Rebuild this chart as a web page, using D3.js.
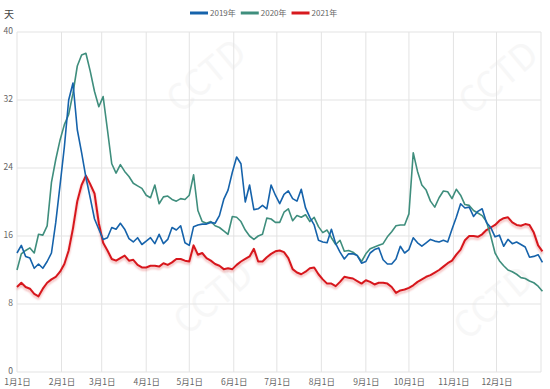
<!DOCTYPE html>
<html>
<head>
<meta charset="utf-8">
<script src="https://cdn.jsdelivr.net/npm/d3@7"></script>
<style>
  body { margin: 0; background: #fff; }
  text { font-family: "Noto Sans CJK SC", "Noto Sans", sans-serif; }
</style>
</head>
<body>
<svg id="chart" width="550" height="389"></svg>
<script>
// days sampled every 3 days from Jan 1
const sampleDays = d3.range(0, 367, 3);

const monthStarts = [0, 31, 59, 90, 120, 151, 181, 212, 243, 273, 304, 334];
const monthLabels = ["1月1日", "2月1日", "3月1日", "4月1日", "5月1日", "6月1日",
  "7月1日", "8月1日", "9月1日", "10月1日", "11月1日", "12月1日"];
const yTicks = [0, 8, 16, 24, 32, 40];
const seriesNames = ["2019年", "2020年", "2021年"];

const days2019 = [
  14.0, 14.9, 13.6, 13.4, 12.2, 12.7, 12.2, 13.0, 14.0, 17.6,
  22.0, 26.5, 32.0, 34.0, 28.5, 25.8, 22.9, 20.5, 18.0, 16.8,
  15.6, 15.8, 17.0, 16.8, 17.5, 16.8, 15.7, 15.3, 15.8, 15.0,
  15.4, 15.8, 15.1, 16.2, 15.1, 15.6, 17.0, 16.7, 17.2, 15.2,
  14.9, 17.1, 17.3, 17.4, 17.4, 17.6, 17.5, 18.4, 20.3, 21.4,
  23.5, 25.3, 24.5, 20.0, 22.0, 19.1, 19.2, 19.6, 19.2, 22.0,
  20.8, 19.8, 20.9, 21.3, 20.4, 20.1, 21.5, 19.3, 18.2, 17.3,
  15.5, 15.3, 15.2, 16.8, 15.1, 14.1, 13.3, 13.9, 13.9, 13.7,
  12.8, 13.0, 14.0, 14.4, 14.6, 13.2, 12.7, 12.7, 13.3, 14.8,
  14.0, 14.4, 15.8, 15.2, 14.8, 15.2, 15.6, 15.4, 15.3, 15.5,
  15.3, 16.8, 18.2, 19.8, 19.3, 19.4, 18.3, 18.9, 19.2, 17.6,
  17.0, 15.9, 16.1, 14.8, 15.6, 15.1, 15.3, 15.0, 14.7, 13.5,
  13.6, 13.8, 12.9
];

const days2020 = [
  12.0, 13.9, 14.3, 14.6, 14.0, 16.2, 16.1, 17.2, 22.3, 25.0,
  27.3, 29.1, 30.3, 32.8, 36.0, 37.3, 37.5, 35.4, 33.0, 31.2,
  32.4, 28.5, 24.5, 23.4, 24.4, 23.6, 23.0, 22.2, 21.9, 21.6,
  20.8, 20.5, 22.0, 19.8, 20.6, 20.7, 20.3, 20.1, 20.4, 20.3,
  20.8, 23.2, 19.0, 17.7, 17.5, 17.7, 17.2, 17.0, 16.6, 16.2,
  18.3, 18.2, 17.7, 16.7, 16.0, 15.6, 16.0, 16.2, 18.1, 18.0,
  17.6, 17.6, 18.8, 19.2, 17.8, 18.4, 18.2, 18.5, 17.7, 18.2,
  17.1, 16.4, 16.7, 15.8, 15.0, 15.5, 14.2, 14.3, 14.1, 13.7,
  13.0, 13.9, 14.5, 14.7, 14.9, 15.1, 15.9, 16.5, 17.2, 17.3,
  17.3, 18.6, 25.8, 23.6, 22.0, 21.4, 20.1, 19.4, 20.5, 21.3,
  21.2, 20.4, 21.5, 20.8, 19.7, 19.6, 19.0, 18.7, 18.4, 17.7,
  16.0, 14.0, 13.1, 12.5, 12.0, 11.8, 11.5, 11.1, 11.0, 10.7,
  10.5, 10.1, 9.5
];

const days2021 = [
  10.0, 10.5, 10.0, 9.8, 9.2, 8.9, 9.8, 10.5, 10.9, 11.2,
  11.8, 12.7, 14.3, 16.9, 20.1, 22.0, 23.1, 22.1, 21.0, 17.5,
  15.2, 14.3, 13.3, 13.1, 13.4, 13.7, 13.1, 13.2, 12.6, 12.3,
  12.3, 12.5, 12.5, 12.4, 12.8, 12.6, 12.9, 13.3, 13.3, 13.1,
  13.0, 14.9, 13.8, 14.0, 13.4, 13.1, 12.7, 12.5, 12.1, 12.2,
  12.1, 12.6, 13.0, 13.3, 13.6, 14.5, 13.0, 13.0, 13.5, 13.9,
  14.2, 14.3, 14.1, 13.4, 12.1, 11.7, 11.5, 11.8, 12.2, 12.3,
  11.5, 10.9, 10.4, 10.4, 10.1, 10.6, 11.2, 11.1, 11.0, 10.7,
  10.4, 10.8, 10.6, 10.3, 10.5, 10.5, 10.4, 10.0, 9.3, 9.6,
  9.7, 9.9, 10.2, 10.6, 10.9, 11.2, 11.4, 11.7, 12.0, 12.4,
  12.8, 13.1, 13.8, 14.4, 15.5, 16.0, 16.0, 15.9, 16.2, 16.7,
  17.0, 17.3, 17.8, 18.1, 18.2, 17.6, 17.3, 17.2, 17.4, 17.3,
  16.4, 14.9, 14.2
];

const COLORS = ["#1663ab", "#3f8e7d", "#d7191e"];

const svg = d3.select("#chart");
const X_SCALE = d3.scaleLinear().domain([0, 365]).range([17, 541]);
const Y_SCALE = d3.scaleLinear().domain([0, 40]).range([372, 32]);

// faint watermark
[[208, 78], [500, 80], [495, 305], [215, 300]].forEach(p => {
  svg.append("text")
    .attr("transform", `translate(${p[0]},${p[1]}) rotate(-40)`)
    .attr("text-anchor", "middle")
    .attr("dominant-baseline", "middle")
    .attr("font-size", 36)
    .attr("font-family", "DejaVu Sans")
    .attr("fill", "#f7f7f7")
    .text("CCTD");
});

// horizontal grid
svg.append("g")
  .selectAll("line")
  .data(yTicks)
  .enter()
  .append("line")
  .attr("x1", X_SCALE(0))
  .attr("x2", X_SCALE(365))
  .attr("y1", d => Y_SCALE(d))
  .attr("y2", d => Y_SCALE(d))
  .attr("stroke", "#e3e3e3");

// vertical grid
svg.append("g")
  .selectAll("line")
  .data(monthStarts.concat([365]))
  .enter()
  .append("line")
  .attr("x1", d => X_SCALE(d))
  .attr("x2", d => X_SCALE(d))
  .attr("y1", Y_SCALE(40))
  .attr("y2", Y_SCALE(0))
  .attr("stroke", "#e3e3e3");

const X_AXIS = d3.axisBottom(X_SCALE)
  .tickValues(monthStarts)
  .tickFormat((d, i) => monthLabels[i])
  .tickSize(0)
  .tickPadding(7);
svg.append("g")
  .attr("transform", `translate(0, ${Y_SCALE(0)})`)
  .call(X_AXIS)
  .call(g => g.select(".domain").remove())
  .selectAll("text")
  .attr("font-size", 8.5)
  .attr("fill", "#666");

const Y_AXIS = d3.axisLeft(Y_SCALE).tickValues(yTicks).tickSize(0).tickPadding(4);
svg.append("g")
  .attr("transform", `translate(${X_SCALE(0)}, 0)`)
  .call(Y_AXIS)
  .call(g => g.select(".domain").remove())
  .selectAll("text")
  .attr("font-size", 8.5)
  .attr("dy", "0.2em")
  .attr("fill", "#666");

svg.append("text")
  .attr("x", 4)
  .attr("y", 18)
  .attr("font-size", 10)
  .attr("fill", "#444")
  .text("天");

// shadow for red line
const defs = svg.append("defs");
defs.append("filter")
  .attr("id", "shadow")
  .attr("x", "-5%").attr("y", "-5%").attr("width", "110%").attr("height", "120%")
  .append("feDropShadow")
  .attr("dx", 0).attr("dy", 2).attr("stdDeviation", 1.2)
  .attr("flood-color", "#d7191e").attr("flood-opacity", 0.35);

const line = d3.line()
  .x((d, i) => X_SCALE(sampleDays[i]))
  .y(d => Y_SCALE(d));

const allSeries = [days2019, days2020, days2021];
[2, 1, 0].forEach(k => {
  svg.append("path")
    .datum(allSeries[k])
    .attr("d", line)
    .attr("fill", "none")
    .attr("stroke", COLORS[k])
    .attr("stroke-width", k === 2 ? 2 : 1.6)
    .attr("stroke-linejoin", "round")
    .attr("filter", k === 2 ? "url(#shadow)" : null);
});

// legend, laid out left to right from measured text widths
const LEGEND = svg.append("g").attr("transform", "translate(0, 13)");
let legendCursor = 190;
seriesNames.forEach((name, i) => {
  const item = LEGEND.append("g").attr("transform", `translate(${legendCursor}, 0)`);
  item.append("line")
    .attr("x1", 0).attr("x2", 18)
    .attr("stroke", COLORS[i])
    .attr("stroke-width", 3);
  const label = item.append("text")
    .attr("x", 20)
    .attr("y", 3)
    .attr("font-size", 8)
    .attr("fill", "#666")
    .text(name);
  legendCursor += 20 + label.node().getComputedTextLength() + 5;
});
</script>
</body>
</html>
